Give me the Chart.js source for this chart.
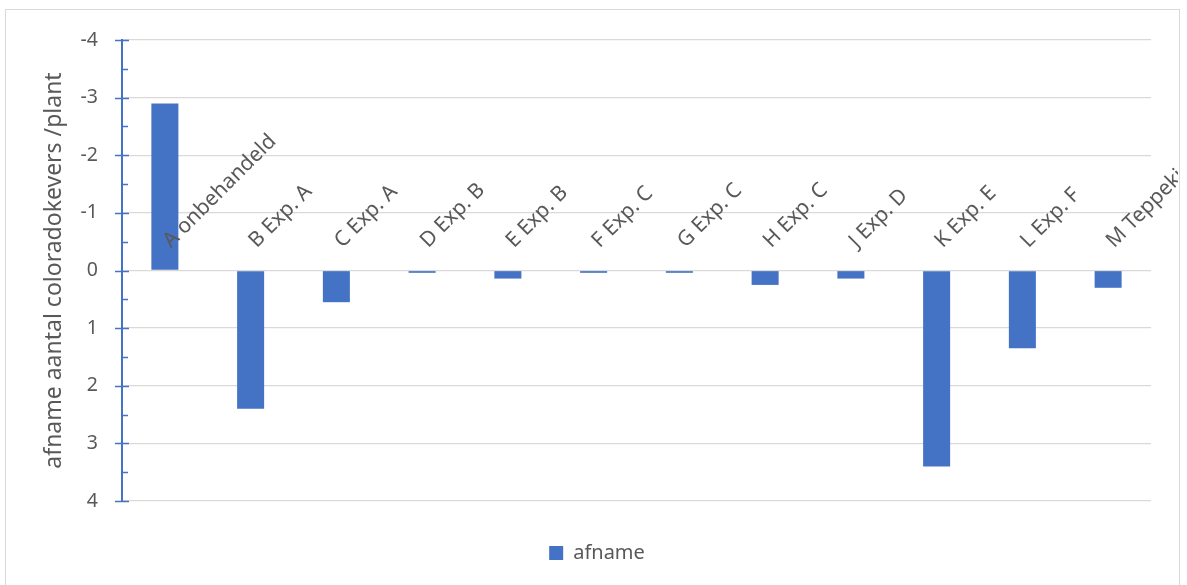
<!DOCTYPE html>
<html>
<head>
<meta charset="utf-8">
<script src="https://cdn.jsdelivr.net/npm/chart.js@4.4.1/dist/chart.umd.min.js"></script>
<style>
  html, body { margin: 0; padding: 0; background: #ffffff; }
  #wrap { position: relative; width: 1187px; height: 585px; overflow: hidden; }
  #frame { position: absolute; left: 5px; top: 9px; width: 1175px; height: 620px; border: 1px solid #D9D9D9; box-sizing: border-box; pointer-events: none; }
  canvas { position: absolute; left: 0; top: 0; }
</style>
</head>
<body>
<div id="wrap">
  <div id="frame"></div>
  <canvas id="c" width="1187" height="585"></canvas>
</div>
<script>
const categories = ["A onbehandeld", "B Exp. A", "C Exp. A", "D Exp. B", "E Exp. B", "F Exp. C", "G Exp. C", "H Exp. C", "J Exp. D", "K Exp. E", "L Exp. F", "M Teppeki"];
const afname = [-2.9, 2.4, 0.55, 0.04, 0.14, 0.04, 0.04, 0.25, 0.14, 3.4, 1.35, 0.3];
const seriesName = "afname";
const yTicks = [-4, -3, -2, -1, 0, 1, 2, 3, 4];
const yTitle = "afname aantal coloradokevers /plant";

const FONT = "'Noto Sans', 'Open Sans', sans-serif";
const TEXT = "#595959";
const BLUE = "#4472C4";

const axisDecor = {
  id: 'axisDecor',
  afterDatasetsDraw(chart) {
    const ctx = chart.ctx;
    const y = chart.scales.y, x = chart.scales.x;
    const ax = chart.chartArea.left;
    ctx.save();
    ctx.strokeStyle = BLUE;
    ctx.lineWidth = 1.5;
    yTicks.forEach(v => {
      const py = Math.round(y.getPixelForValue(v)) + 0.5;
      ctx.beginPath(); ctx.moveTo(ax - 7, py); ctx.lineTo(ax + 7, py); ctx.stroke();
    });
    for (let i = 0; i < yTicks.length - 1; i++) {
      const v = (yTicks[i] + yTicks[i + 1]) / 2;
      const py = Math.round(y.getPixelForValue(v)) + 0.5;
      ctx.beginPath(); ctx.moveTo(ax, py); ctx.lineTo(ax + 6, py); ctx.stroke();
    }
    ctx.restore();

    const y0 = y.getPixelForValue(0);
    ctx.save();
    ctx.beginPath(); ctx.rect(0, 0, 1178, chart.height); ctx.clip();
    ctx.fillStyle = TEXT;
    ctx.font = "21px " + FONT;
    ctx.textAlign = 'left';
    ctx.textBaseline = 'alphabetic';
    categories.forEach((lab, i) => {
      const px = x.getPixelForValue(i);
      ctx.save();
      ctx.translate(px + 6, y0 - 22);
      ctx.rotate(-Math.PI / 4);
      ctx.fillText(lab, 0, 0);
      ctx.restore();
    });
    ctx.restore();
  }
};

new Chart(document.getElementById('c'), {
  type: 'bar',
  data: {
    labels: categories,
    datasets: [{
      label: seriesName,
      data: afname,
      backgroundColor: BLUE,
      borderWidth: 0,
      categoryPercentage: 1,
      barPercentage: 0.315
    }]
  },
  options: {
    responsive: false,
    animation: false,
    devicePixelRatio: 1,
    layout: { padding: { left: 43, right: 36, top: 40, bottom: 12 } },
    plugins: {
      tooltip: { enabled: false },
      legend: {
        position: 'bottom',
        labels: {
          boxWidth: 14, boxHeight: 14, padding: 10,
          color: TEXT,
          font: { family: FONT, size: 20 }
        }
      }
    },
    scales: {
      x: {
        display: true,
        grid: { display: false },
        border: { display: false },
        ticks: { display: false },
        afterFit(s) { s.height = 32; }
      },
      y: {
        reverse: true,
        min: -4, max: 4,
        afterFit(s) { s.width = 79; },
        afterBuildTicks(s) { s.ticks = yTicks.map(v => ({ value: v })); },
        ticks: {
          color: TEXT,
          font: { family: FONT, size: 19.5 },
          padding: 24,
          callback: (v) => String(v)
        },
        grid: { color: '#D9D9D9', lineWidth: 1.3, drawTicks: false },
        border: { display: true, color: BLUE, width: 2 },
        title: {
          display: true,
          text: yTitle,
          color: TEXT,
          font: { family: FONT, size: 23 },
          padding: { top: -2, bottom: 0 }
        }
      }
    }
  },
  plugins: [axisDecor]
});
</script>
</body>
</html>
